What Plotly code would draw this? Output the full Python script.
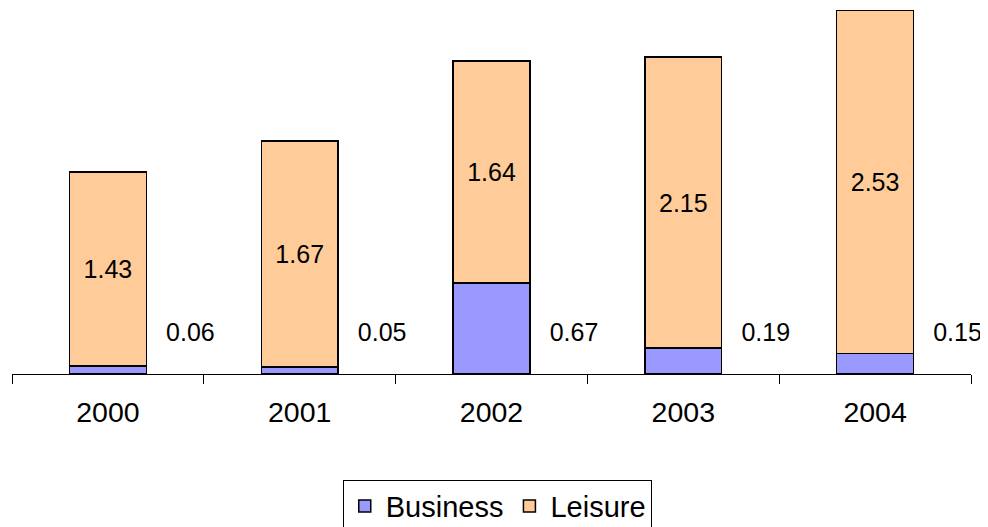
import plotly.graph_objects as go

years = ["2000", "2001", "2002", "2003", "2004"]
business = [0.06, 0.05, 0.67, 0.19, 0.15]
leisure = [1.43, 1.67, 1.64, 2.15, 2.53]
business_label_y = [0.29, 0.29, 0.29, 0.29, 0.29]

FONT = "Liberation Sans, Arial, sans-serif"

fig = go.Figure()
fig.add_trace(go.Bar(
    name="Business", x=years, y=business,
    marker=dict(color="#9999FF", line=dict(color="black", width=1.5)),
))
fig.add_trace(go.Bar(
    name="Leisure", x=years, y=leisure,
    marker=dict(color="#FFCC99", line=dict(color="black", width=1.5)),
    text=[f"{v:.2f}" for v in leisure], textposition="inside",
    insidetextanchor="middle", textangle=0, constraintext="none",
    textfont=dict(family=FONT, size=25, color="black"),
))
fig.add_trace(go.Scatter(
    x=[i + 0.43 for i in range(len(years))], y=business_label_y,
    mode="text", text=[f"{v:.2f}" for v in business],
    textfont=dict(family=FONT, size=25, color="black"),
    xaxis="x2", showlegend=False, hoverinfo="skip", cliponaxis=False,
))

# page body has an 8px margin; figure sized to fit the 988x527 window
fig.update_layout(
    width=980, height=519,
    margin=dict(l=4, r=17, t=0, b=153, autoexpand=False),
    barmode="stack", bargap=0.6,
    plot_bgcolor="white", paper_bgcolor="white",
    font=dict(family=FONT, color="black"),
    xaxis=dict(type="category", tickson="boundaries", ticks="outside",
               ticklen=9, tickcolor="black", tickwidth=1,
               showline=True, linecolor="black", linewidth=1,
               showgrid=False, tickfont=dict(size=28.5), ticklabelstandoff=13,
               automargin=False),
    xaxis2=dict(overlaying="x", range=[-0.5, 4.5], visible=False),
    yaxis=dict(range=[0, 2.7], visible=False, showgrid=False,
               automargin=False),
    legend=dict(orientation="h", x=0.506, xanchor="center", y=-0.289,
                yanchor="top", bordercolor="black", borderwidth=1,
                font=dict(size=29), traceorder="normal",
                itemwidth=32),
)

fig.write_html("out.html")
